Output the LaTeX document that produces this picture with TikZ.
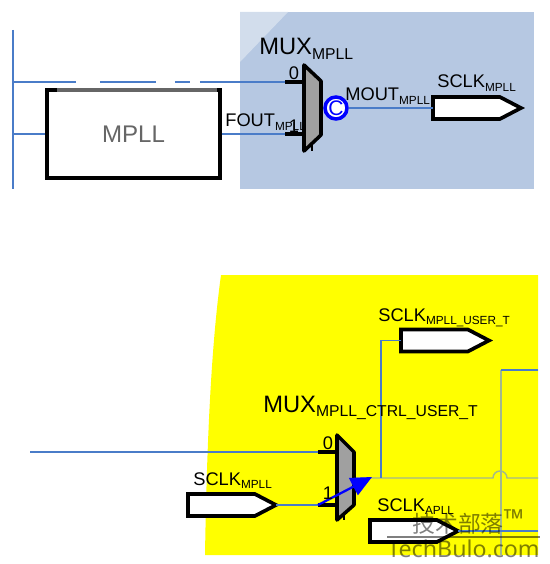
\documentclass[tikz,border=0pt]{standalone}
\usepackage{fontspec}
\setmainfont{Liberation Sans}
\newfontfamily\cjkfont{Noto Sans CJK SC}
\newfontfamily\markfont{Noto Sans}
\usetikzlibrary{positioning,arrows.meta,shapes.symbols}
\definecolor{wireblue}{RGB}{74,124,200}
\definecolor{wiregray}{RGB}{163,184,140}
\definecolor{panelblue}{RGB}{182,200,226}
\definecolor{panellight}{RGB}{210,221,236}
\definecolor{panelyellow}{RGB}{255,255,0}
\definecolor{muxgray}{RGB}{160,160,160}
\newcommand{\bigsig}[2]{{\fontsize{13.5}{16}\selectfont #1\raisebox{-2.5pt}{\fontsize{8.95}{10}\selectfont #2}}}
\newcommand{\smallsig}[2]{{\fontsize{10.4}{12}\selectfont #1\raisebox{-2pt}{\fontsize{6.7}{8}\selectfont #2}}}
\tikzset{
    wire/.style={wireblue, line width=0.6pt},
    stub/.style={black, line width=2pt},
    muxbody/.style={draw=black, fill=muxgray, line width=2pt, line join=round},
    sigbox/.style={signal, signal to=east, signal pointer angle=55, draw=black, fill=white, anchor=west,
        line width=2.1pt, minimum width=1.76cm, minimum height=0.44cm, inner sep=0pt, outer sep=0pt},
    lbl/.style={anchor=base west, inner sep=0pt},
    pinlbl/.style={font=\fontsize{10.4}{12}\selectfont, inner sep=0pt},
}

\begin{document}
\begin{tikzpicture}[x=0.02cm, y=-0.02cm, >=Stealth]
    \useasboundingbox (0,0) rectangle (550,564);

    % Background panels
    \fill[panelblue] (240,12) rectangle (534,189);
    \fill[panellight] (240,12) -- (288,12) -- (240,62) -- cycle;
    \fill[panelyellow] (221,275) -- (538,275) -- (538,555) -- (205,555) .. controls (207,430) and (212,340) .. (221,275) -- cycle;

    % Upper part: MPLL block
    \node[draw=black, fill=white, line width=2pt, minimum width=3.46cm, minimum height=1.76cm, inner sep=0pt,
        font=\fontsize{13.7}{16}\selectfont, text=black!60] (mpll) at (133.5,134) {MPLL};
    \draw[black!60, line width=2pt] (57,90) -- (217,90);

    % Upper mux
    \coordinate (muxa0) at (304,82);
    \coordinate (muxa1) at (304,134);
    \coordinate (muxaout) at (321,108);
    \coordinate (stuba0) at (285,82);
    \coordinate (stuba1) at (285,134);
    \coordinate (railtop) at (13,30);
    \coordinate (railbot) at (13,189);
    \coordinate (raila0) at (13,82);
    \coordinate (raila1) at (13,134);

    \draw[wire] (railtop) -- (railbot);
    \draw[wire, dash pattern=on 1.26cm off 0.48cm on 1.12cm off 0.38cm on 0.3cm off 0.2cm on 1.7cm] (raila0) -- (stuba0);
    \draw[wire] (raila1) -- (mpll.west);
    \draw[wire] (mpll.east) -- (stuba1);
    \draw[stub] (stuba0) -- (muxa0);
    \draw[stub] (stuba1) -- (muxa1);
    \draw[muxbody] (304,65) -- (321,81) -- (321,135) -- (304,151) -- cycle;
    \draw[stub, line width=1pt] (312,143) -- (312,151);

    \node[circle, draw=blue, fill=white, line width=2pt, minimum size=0.44cm, inner sep=0pt, text=blue,
        font=\fontsize{12}{14}\selectfont] (cmark) at (336,108) {C};
    \node[sigbox] (sclka) at (433,108) {};
    \draw[black, line width=0.6pt] (muxaout) -- (cmark.west);
    \draw[wire] (cmark.east) -- (sclka.west);

    % Upper labels
    \node[lbl] (muxalbl) at (259,55) {\bigsig{MUX}{MPLL}};
    \node[lbl] (moutlbl) at (345,101) {\smallsig{MOUT}{MPLL}};
    \node[lbl] (sclkalbl) at (437,88) {\smallsig{SCLK}{MPLL}};
    \node[lbl] (foutlbl) at (225,127) {\smallsig{FOUT}{MPLL}};
    \node[pinlbl] (pina0) at (294,73) {0};
    \node[pinlbl] (pina1) at (294,126) {1};

    % Lower part: user mux
    \coordinate (muxb0) at (337,452);
    \coordinate (muxb1) at (337,505);
    \coordinate (muxbout) at (354,478);
    \coordinate (stubb0) at (318,452);
    \coordinate (stubb1) at (318,505);
    \coordinate (inb0) at (30,452);
    \coordinate (tap) at (381,478);
    \coordinate (arrowtip) at (372,477);
    \coordinate (rightend) at (538,478);
    \coordinate (railb) at (501,370);
    \coordinate (railc) at (501,555);
    \coordinate (railright) at (538,370);

    \node[sigbox] (sclkuser) at (401,340.5) {};
    \node[sigbox] (sclkb) at (188,505) {};
    \node[sigbox] (sclkapll) at (370,531) {};

    \draw[wiregray, line width=0.8pt] (railb) -- (railc);
    \draw[wire] (railright) -- (railb);
    \draw[wiregray, line width=0.8pt] (muxbout) -- (493,478) arc[start angle=180, end angle=0, radius=0.14cm] -- (rightend);
    \draw[wire] (tap) |- (sclkuser.west);
    \draw[wire] (inb0) -- (stubb0);
    \draw[wire] (sclkb.east) -- (stubb1);
    \draw[wire] (sclkapll.east) -- (538,531);
    \draw[stub] (stubb0) -- (muxb0);
    \draw[stub] (stubb1) -- (muxb1);
    \draw[muxbody] (337,435) -- (354,452) -- (354,505) -- (337,520) -- cycle;
    \draw[stub, line width=1pt] (344,512) -- (344,520);

    % Blue select arrow
    \draw[-{Triangle[length=0.42cm, width=0.38cm]}, blue, line width=1.3pt] (stubb1) -- (arrowtip);

    % Lower labels
    \node[lbl] (muxblbl) at (263,412) {\bigsig{MUX}{MPLL\_CTRL\_USER\_T}};
    \node[lbl] (sclkuserlbl) at (378,321) {\smallsig{SCLK}{MPLL\_USER\_T}};
    \node[lbl] (sclkblbl) at (193,485) {\smallsig{SCLK}{MPLL}};
    \node[lbl] (sclkapllbl) at (377,511) {\smallsig{SCLK}{APLL}};
    \node[pinlbl] (pinb0) at (328,443) {0};
    \node[pinlbl] (pinb1) at (328,493) {1};

    % Watermark
    \node[lbl, text=black, text opacity=0.5, font=\cjkfont\fontsize{13}{18}\selectfont] (markcn) at (412,532) {技术部落\raisebox{2pt}{\fontsize{15}{15}\selectfont\markfont ™}};
    \node[lbl, text=black, text opacity=0.5, font=\markfont\fontsize{13.2}{18}\selectfont] (markcom) at (387,557) {TechBulo.com};
    \coordinate (markl) at (387,537);
    \coordinate (markr) at (540,537);
    \draw[black, opacity=0.5, line width=0.7pt] (markl) -- (markr);
\end{tikzpicture}
\end{document}
